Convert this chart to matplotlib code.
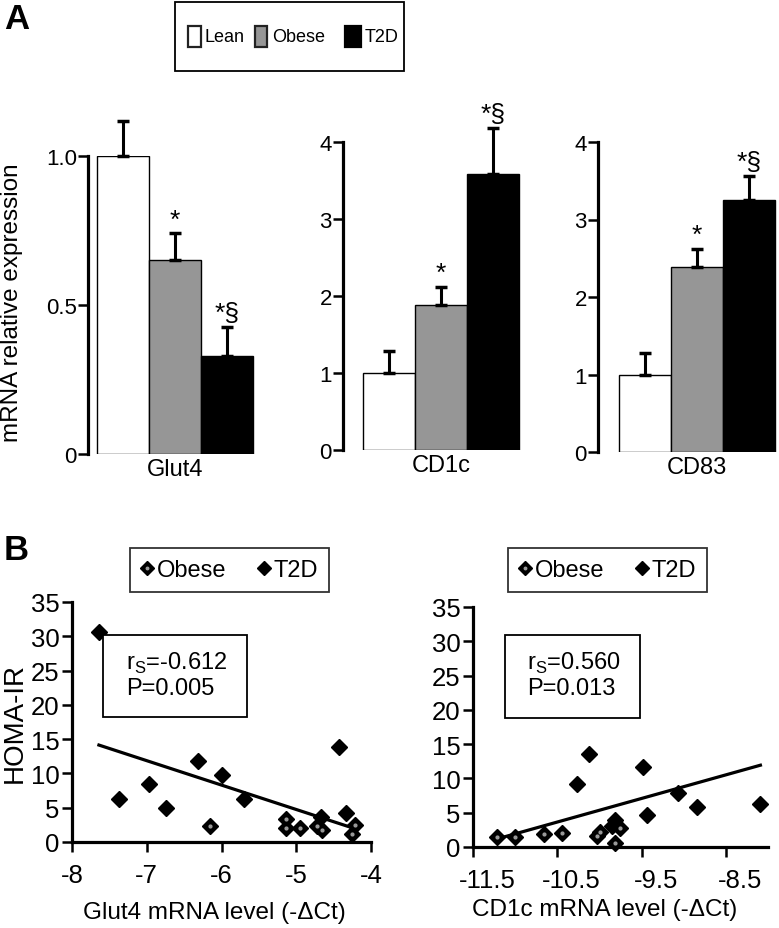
import numpy as np
import matplotlib
matplotlib.use("Agg")
import matplotlib.pyplot as plt
from matplotlib.patches import Rectangle
from matplotlib.lines import Line2D
from matplotlib.transforms import ScaledTranslation

plt.rcParams['font.family'] = ['Liberation Sans', 'DejaVu Sans']

# ---------------- data ----------------
groups = ['Lean', 'Obese', 'T2D']
bar_colors = ['white', '#969696', 'black']

genes = ['Glut4', 'CD1c', 'CD83']
glut4_mean = [1.0, 0.65, 0.33]
glut4_err = [0.117, 0.09, 0.095]
cd1c_mean = [1.0, 1.88, 3.58]
cd1c_err = [0.29, 0.24, 0.60]
cd83_mean = [1.0, 2.39, 3.25]
cd83_err = [0.28, 0.23, 0.31]
sig_marks = ['', '*', '*\u00a7']

glut4_yticks = [0, 0.5, 1.0]
glut4_yticklabels = ['0', '0.5', '1.0']
cd_yticks = [0, 1, 2, 3, 4]

# scatter: Glut4 vs HOMA-IR
glut4_obese_x = [-6.15, -5.14, -5.14, -4.95, -4.72, -4.66, -4.21, -4.26]
glut4_obese_y = [2.4, 3.4, 2.1, 2.1, 2.4, 1.8, 2.5, 1.2]
glut4_t2d_x = [-7.64, -7.37, -6.97, -6.74, -6.31, -5.99, -5.70, -4.67, -4.43, -4.34]
glut4_t2d_y = [30.6, 6.2, 8.4, 5.0, 11.8, 9.7, 6.3, 3.6, 13.9, 4.2]
glut4_fit = (-13.06, -3.56)          # intercept, slope
glut4_stats = ['r$_\\mathregular{S}$=-0.612', 'P=0.005']
glut4_xticks = [-8, -7, -6, -5, -4]

# scatter: CD1c vs HOMA-IR
cd1c_obese_x = [-11.21, -11.00, -10.66, -10.44, -10.03, -9.99, -9.82, -9.76]
cd1c_obese_y = [1.4, 1.4, 1.9, 2.1, 1.6, 2.2, 0.6, 2.7]
cd1c_t2d_x = [-10.27, -10.12, -9.85, -9.81, -9.48, -9.44, -9.07, -8.84, -8.09]
cd1c_t2d_y = [9.2, 13.5, 3.1, 4.0, 11.6, 4.7, 7.9, 5.9, 6.2]
cd1c_fit = (39.76, 3.44)
cd1c_stats = ['r$_\\mathregular{S}$=0.560', 'P=0.013']
cd1c_xticks = [-11.5, -10.5, -9.5, -8.5]

homa_yticks = [0, 5, 10, 15, 20, 25, 30, 35]

# ---------------- figure ----------------
W, H = 779, 929
fig = plt.figure(figsize=(W / 100, H / 100), dpi=100)


def fx(px):
    return px / W


def fy(py):
    return 1 - py / H


def axpos(x0, x1, ytop, ybot):
    return [x0 / W, 1 - ybot / H, (x1 - x0) / W, (ybot - ytop) / H]


def style_bar_axes(ax):
    for s in ['top', 'right', 'bottom']:
        ax.spines[s].set_visible(False)
    ax.spines['left'].set_linewidth(2.3)
    ax.tick_params(axis='y', direction='out', length=7, width=1.8, labelsize=16, pad=1)
    ax.tick_params(axis='x', length=0, labelsize=17, pad=3)


def draw_bars(ax, means, errs, xlim, ylim, yticks, yticklabels, gene):
    x = np.arange(len(means))
    ax.bar(x, means, width=1.0, color=bar_colors, edgecolor='black', linewidth=1.0, zorder=2)
    ax.errorbar(x, means, yerr=[np.zeros(len(errs)), errs], fmt='none', ecolor='black',
                elinewidth=2.2, capsize=4.5, capthick=2.5, clip_on=False, zorder=3)
    for xi, m, e, s in zip(x, means, errs, sig_marks):
        if s:
            ax.annotate(s, (xi, m + e), xytext=(0, 10), textcoords='offset points',
                        ha='center', va='center', fontsize=19, annotation_clip=False)
    ax.set_xlim(*xlim)
    ax.set_ylim(*ylim)
    ax.set_yticks(yticks)
    ax.set_yticklabels(yticklabels)
    ax.set_xticks([1])
    ax.set_xticklabels([gene])
    style_bar_axes(ax)


ax1 = fig.add_axes(axpos(88, 258.2, 157, 455))
draw_bars(ax1, glut4_mean, glut4_err, (-0.673, 2.6), (0, 1.0), glut4_yticks, glut4_yticklabels, genes[0])
ax2 = fig.add_axes(axpos(343, 524, 143, 451))
draw_bars(ax2, cd1c_mean, cd1c_err, (-0.885, 2.6), (0, 4), cd_yticks, [str(t) for t in cd_yticks], genes[1])
ax3 = fig.add_axes(axpos(598, 777.6, 143, 453))
draw_bars(ax3, cd83_mean, cd83_err, (-0.904, 2.55), (0, 4), cd_yticks, [str(t) for t in cd_yticks], genes[2])

fig.text(fx(12), fy(303), 'mRNA relative expression', rotation=90, ha='center', va='center', fontsize=17.5)

# legend A (frame, swatches, labels)
fig.add_artist(Rectangle((fx(175), fy(72)), fx(404) - fx(175), fy(3) - fy(72),
                         transform=fig.transFigure, facecolor='white', edgecolor='black', linewidth=1.3))
legA_patch_x = [188, 255, 345]
legA_patch_w = [13, 12, 16]
legA_text_x = [205, 272, 365]
for c, px, pw, tx, name in zip(bar_colors, legA_patch_x, legA_patch_w, legA_text_x, groups):
    fig.add_artist(Rectangle((fx(px), fy(48)), pw / W, fy(27) - fy(48), transform=fig.transFigure,
                             facecolor=c, edgecolor='#222222' if c != 'black' else 'black', linewidth=1.6))
    fig.text(fx(tx), fy(38), name, fontsize=13, ha='left', va='center')

# panel labels
fig.text(fx(4), fy(3), 'A', fontsize=25, fontweight='bold', ha='left', va='top')
fig.text(fx(4), fy(534), 'B', fontsize=25, fontweight='bold', ha='left', va='top')


def style_scatter_axes(ax):
    for s in ['top', 'right']:
        ax.spines[s].set_visible(False)
    for s in ['left', 'bottom']:
        ax.spines[s].set_linewidth(2.3)
    ax.tick_params(direction='out', length=7, width=1.8, labelsize=18.5)
    ax.tick_params(axis='x', pad=8)
    ax.tick_params(axis='y', pad=2)


def draw_scatter(ax, ox, oy, tx, ty, fit, xlim, xticks):
    ax.plot(tx, ty, linestyle='none', marker='D', markersize=8.5, color='black', zorder=3, clip_on=False)
    ax.plot(ox, oy, linestyle='none', marker='D', markersize=8.5, color='black', zorder=3, clip_on=False)
    ax.plot(ox, oy, linestyle='none', marker='o', markersize=2.0, color='#9a9a9a', zorder=4, clip_on=False)
    allx = np.array(list(ox) + list(tx))
    xs = np.array([allx.min(), allx.max()])
    ax.plot(xs, fit[0] + fit[1] * xs, color='black', linewidth=2.3, zorder=2)
    ax.set_xlim(*xlim)
    ax.set_ylim(0, 35)
    ax.set_xticks(xticks)
    ax.set_xticklabels([('%g' % t) for t in xticks])
    ax.set_yticks(homa_yticks)
    style_scatter_axes(ax)


ax4 = fig.add_axes(axpos(72, 371, 603, 843))
draw_scatter(ax4, glut4_obese_x, glut4_obese_y, glut4_t2d_x, glut4_t2d_y, glut4_fit, (-8, -4), glut4_xticks)
ax4.set_xlabel('Glut4 mRNA level (-\u0394Ct)', fontsize=17.5)
ax4.xaxis.set_label_coords((214 - 72) / (371 - 72), -(913 - 843) / (843 - 603))
ax4.xaxis.label.set_va('center')
ax4.set_ylabel('HOMA-IR', fontsize=20)
ax4.yaxis.set_label_coords(-(72 - 15) / (371 - 72), 0.5)
ax4.yaxis.label.set_va('center')

ax5 = fig.add_axes(axpos(473, 768, 608, 848))
draw_scatter(ax5, cd1c_obese_x, cd1c_obese_y, cd1c_t2d_x, cd1c_t2d_y, cd1c_fit, (-11.5, -8.0), cd1c_xticks)
ax5.set_xlabel('CD1c mRNA level (-\u0394Ct)', fontsize=17.5)
ax5.xaxis.set_label_coords((605 - 473) / (768 - 473), -(910 - 848) / (848 - 608))
ax5.xaxis.label.set_va('center')
shift = ScaledTranslation(14 / 100, 0, fig.dpi_scale_trans)
for lab in ax5.get_xticklabels():
    lab.set_transform(lab.get_transform() + shift)


# stats boxes
def stats_box(x0, x1, ytop, ybot, tx, lines):
    fig.add_artist(Rectangle((fx(x0), fy(ybot)), (x1 - x0) / W, fy(ytop) - fy(ybot),
                             transform=fig.transFigure, facecolor='white', edgecolor='black',
                             linewidth=1.3, zorder=5))
    fig.text(fx(tx), fy(663), lines[0], fontsize=17, ha='left', va='center', zorder=6)
    fig.text(fx(tx), fy(689), lines[1], fontsize=17, ha='left', va='center', zorder=6)


stats_box(103, 247, 636, 718, 126, glut4_stats)
stats_box(505, 640, 636, 719, 527, cd1c_stats)

# legends B
obese_h = (Line2D([], [], linestyle='none', marker='D', markersize=7, color='black'),
           Line2D([], [], linestyle='none', marker='o', markersize=1.8, color='#9a9a9a'))
t2d_h = Line2D([], [], linestyle='none', marker='D', markersize=7, color='black')
for cx in (229, 607):
    lg = fig.legend([obese_h, t2d_h], ['Obese', 'T2D'], loc='center',
                    bbox_to_anchor=(fx(cx), fy(571)), ncol=2, fontsize=17,
                    frameon=True, fancybox=False, edgecolor='black', handlelength=0.6,
                    handletextpad=0.1, columnspacing=1.3, borderpad=0.45, borderaxespad=0)
    lg.get_frame().set_linewidth(1.3)

fig.savefig('out.png', dpi=100)
